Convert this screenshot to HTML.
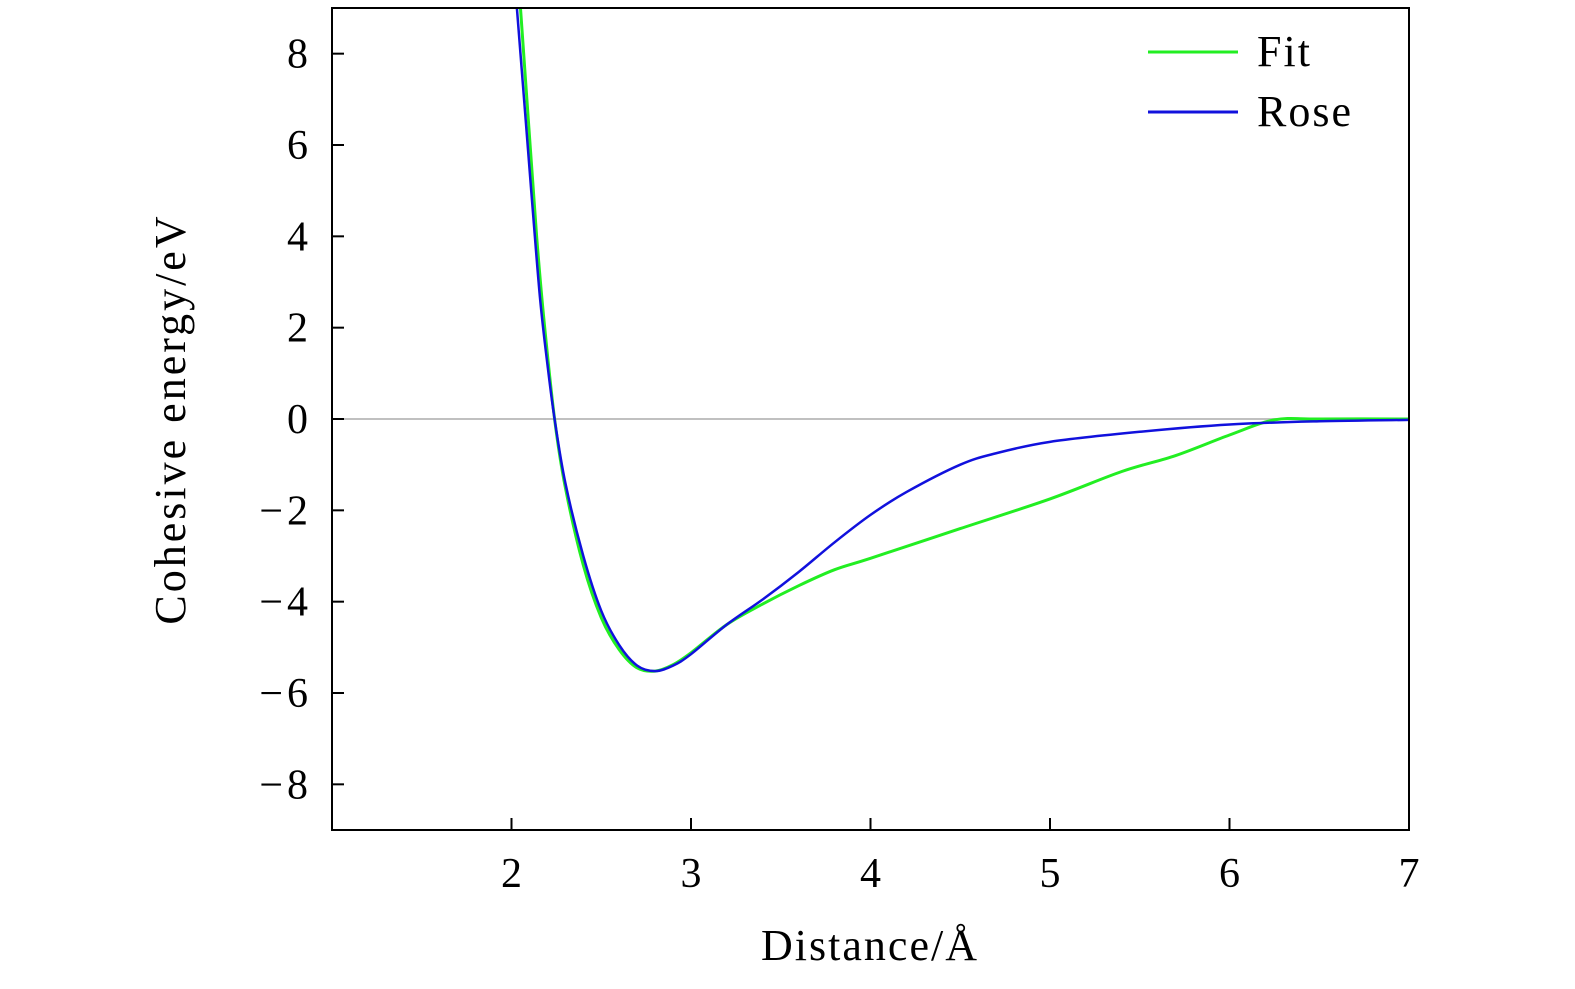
<!DOCTYPE html>
<html><head><meta charset="utf-8"><style>
body{margin:0;background:#fff}
svg text{font-family:"Liberation Serif","DejaVu Serif",serif;fill:#000}
</style></head><body>
<svg id="chart" width="1575" height="984" xmlns="http://www.w3.org/2000/svg">
<defs><clipPath id="clip"><rect x="332" y="8" width="1077" height="822"/></clipPath></defs>
<g id="grid"></g>
</svg>
<script>
const xTicks=[2,3,4,5,6,7];
const yTicks=[8,6,4,2,0,-2,-4,-6,-8];
const roseX=[2.03,2.08,2.12,2.16,2.20,2.24,2.30,2.40,2.50,2.60,2.70,2.80,2.90,3.00,3.20,3.40,3.60,3.80,4.00,4.20,4.50,4.70,5.00,5.50,6.00,6.50,7.00];
const roseY=[9.0,6.5,4.5,2.6,1.2,0.0,-1.4,-3.0,-4.2,-4.95,-5.4,-5.52,-5.4,-5.15,-4.5,-3.95,-3.35,-2.7,-2.1,-1.6,-1.0,-0.75,-0.5,-0.28,-0.12,-0.05,-0.02];
const fitX=[2.05,2.10,2.14,2.18,2.24,2.30,2.40,2.50,2.60,2.70,2.80,2.90,3.00,3.20,3.40,3.60,3.80,4.00,4.50,5.00,5.40,5.70,6.00,6.25,6.50,7.00];
const fitY=[9.0,6.2,4.0,2.2,0.0,-1.5,-3.2,-4.35,-5.05,-5.45,-5.52,-5.38,-5.12,-4.5,-4.05,-3.65,-3.3,-3.05,-2.4,-1.75,-1.15,-0.8,-0.35,-0.02,0.0,0.0];
const X0=332,X1=1409,Y0=8,Y1=830;
const sx=v=>X0+(v-1)/(7-1)*(X1-X0);
const sy=v=>Y1-(v+9)/18*(Y1-Y0);
const svg=document.getElementById('chart');
const NS='http://www.w3.org/2000/svg';
function mk(t,a){const e=document.createElementNS(NS,t);for(const k in a)e.setAttribute(k,a[k]);svg.appendChild(e);return e;}
function path(xs,ys){const p=xs.map((x,i)=>[sx(x),sy(ys[i])]);let d='M'+p[0][0]+','+p[0][1];
for(let i=0;i<p.length-1;i++){const a=p[Math.max(0,i-1)],b=p[i],c=p[i+1],e=p[Math.min(p.length-1,i+2)];
d+=' C'+(b[0]+(c[0]-a[0])/6)+','+(b[1]+(c[1]-a[1])/6)+' '+(c[0]-(e[0]-b[0])/6)+','+(c[1]-(e[1]-b[1])/6)+' '+c[0]+','+c[1];}return d;}
let z=mk('line',{x1:X0,x2:X1,y1:sy(0),y2:sy(0),stroke:'#c0c0c0','stroke-width':2});


let g=mk('path',{d:path(fitX,fitY),fill:'none',stroke:'#22ee22','stroke-width':3,'clip-path':'url(#clip)'});


let b=mk('path',{d:path(roseX,roseY),fill:'none',stroke:'#1111dd','stroke-width':2.5,'clip-path':'url(#clip)'});


let fr=mk('rect',{x:X0,y:Y0,width:X1-X0,height:Y1-Y0,fill:'none',stroke:'#000','stroke-width':2});


xTicks.forEach(v=>{const l=mk('line',{x1:sx(v),x2:sx(v),y1:Y1,y2:Y1-12,stroke:'#000','stroke-width':2});


const t=mk('text',{x:sx(v),y:887,'font-size':42,'text-anchor':'middle'});t.textContent=v;

});
yTicks.forEach(v=>{const l=mk('line',{x1:X0,x2:X0+12,y1:sy(v),y2:sy(v),stroke:'#000','stroke-width':2});


const t=mk('text',{x:312,y:sy(v)+14,'font-size':42,'text-anchor':'end','letter-spacing':4});t.textContent=v<0?'\u2212'+(-v):String(v);

});
let xl=mk('text',{x:870,y:960,'font-size':44,'text-anchor':'middle','letter-spacing':2});xl.textContent='Distance/Å';


let yl=mk('text',{x:185,y:419,'font-size':44,'text-anchor':'middle','letter-spacing':3,transform:'rotate(-90 185 419)'});yl.textContent='Cohesive energy/eV';


[['Fit','#22ee22',52],['Rose','#1111dd',112]].forEach(([n,c,y])=>{
const l=mk('line',{x1:1148,x2:1238,y1:y,y2:y,stroke:c,'stroke-width':3});


const t=mk('text',{x:1257,y:y+14,'font-size':44,'letter-spacing':2});t.textContent=n;

});
</script>
</body></html>
